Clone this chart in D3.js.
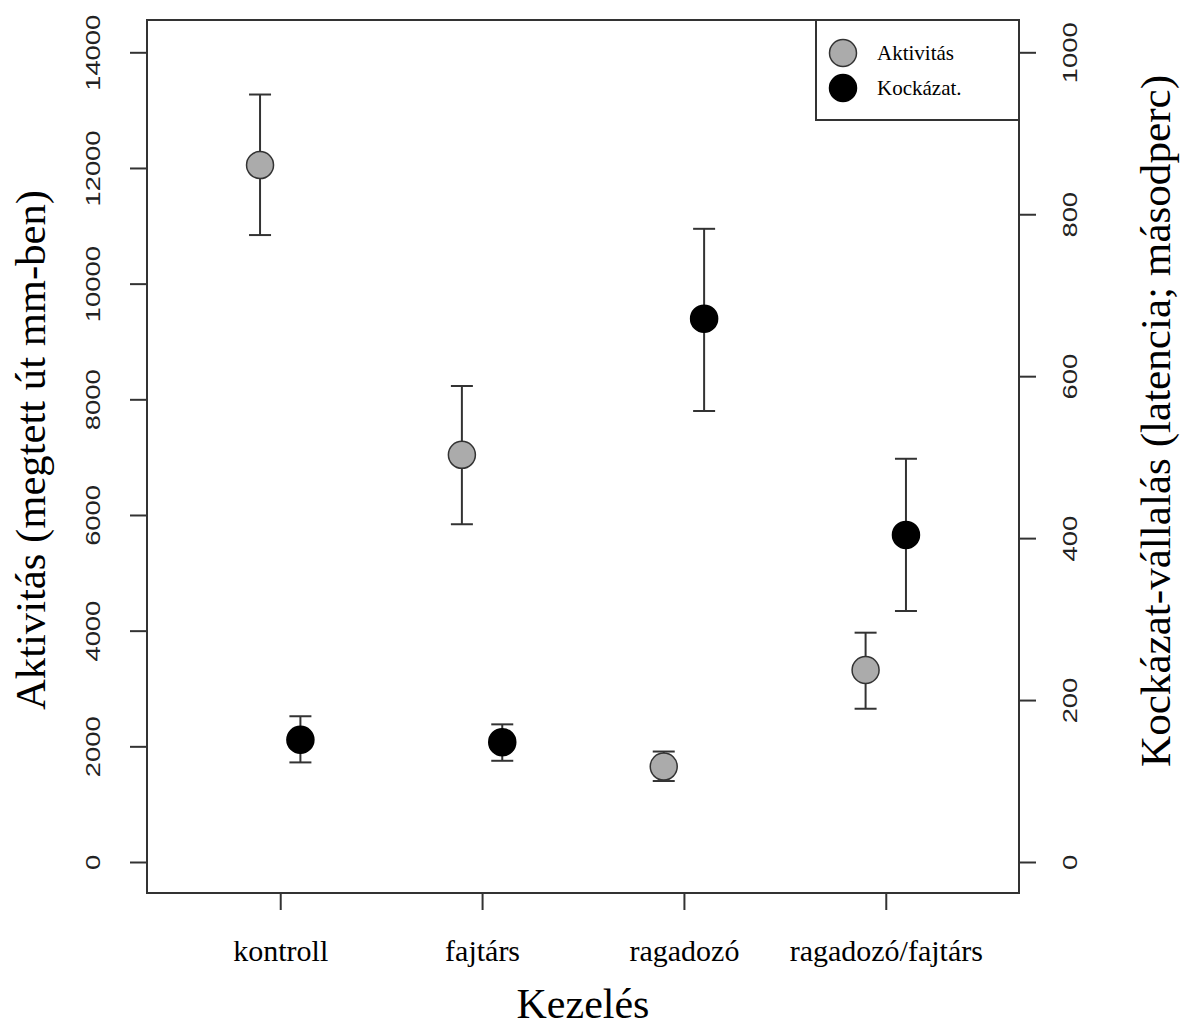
<!DOCTYPE html>
<html>
<head>
<meta charset="utf-8">
<script src="https://cdnjs.cloudflare.com/ajax/libs/d3/7.8.5/d3.min.js"></script>
<style>
body{margin:0;background:#ffffff;}
</style>
</head>
<body>
<svg id="chart" width="1180" height="1030"></svg>
<script>
// values
var categories = ["kontroll", "fajtárs", "ragadozó", "ragadozó/fajtárs"];
var aktMean = [12050, 7040, 1650, 3320];
var aktLow = [10840, 5840, 1400, 2650];
var aktHigh = [13270, 8230, 1910, 3965];
var kocMean = [151, 148, 671, 404];
var kocLow = [123, 125, 557, 310];
var kocHigh = [180, 170, 782, 498];
var leftTicks = [0, 2000, 4000, 6000, 8000, 10000, 12000, 14000];
var rightTicks = [0, 200, 400, 600, 800, 1000];
var legendLabels = ["Aktivitás", "Kockázat."];

var svg = d3.select("#chart");
var box = {left: 147, right: 1019, top: 20, bottom: 893};
var lineCol = "#333333";
var grayFill = "#ababab";
var serif = "'Liberation Serif', 'Times New Roman', serif";
var sans = "'Liberation Sans', Arial, sans-serif";

var x = d3.scaleLinear().domain([0.34, 4.66]).range([box.left, box.right]);
var yLeft = d3.scaleLinear().domain([0, 14000]).range([862, 52.3]);
var yRight = d3.scaleLinear().domain([0, 1000]).range([862, 52.3]);

// left axis
var leftAxis = svg.append("g").attr("class", "leftAxis")
    .attr("transform", "translate(" + box.left + ",0)")
    .call(d3.axisLeft(yLeft).tickValues(leftTicks).tickSize(17).tickFormat(d3.format("d")));
leftAxis.select(".domain").remove();
leftAxis.selectAll("line").attr("stroke", lineCol).attr("stroke-width", 2);
leftAxis.selectAll("text")
    .attr("x", 0).attr("y", 0).attr("dy", null)
    .attr("text-anchor", "middle")
    .attr("dominant-baseline", "central")
    .attr("transform", "translate(-54,0) rotate(-90)")
    .attr("textLength", function (d) { return String(d).length * 15.2; })
    .attr("lengthAdjust", "spacingAndGlyphs")
    .attr("font-family", sans)
    .attr("font-size", "20px")
    .attr("fill", "#222222");

// right axis
var rightAxis = svg.append("g").attr("class", "rightAxis")
    .attr("transform", "translate(" + box.right + ",0)")
    .call(d3.axisRight(yRight).tickValues(rightTicks).tickSize(17).tickFormat(d3.format("d")));
rightAxis.select(".domain").remove();
rightAxis.selectAll("line").attr("stroke", lineCol).attr("stroke-width", 2);
rightAxis.selectAll("text")
    .attr("x", 0).attr("y", 0).attr("dy", null)
    .attr("text-anchor", "middle")
    .attr("dominant-baseline", "central")
    .attr("transform", "translate(51,0) rotate(-90)")
    .attr("textLength", function (d) { return String(d).length * 15.2; })
    .attr("lengthAdjust", "spacingAndGlyphs")
    .attr("font-family", sans)
    .attr("font-size", "20px")
    .attr("fill", "#222222");

// bottom axis
var bottomAxis = svg.append("g").attr("class", "bottomAxis")
    .attr("transform", "translate(0," + box.bottom + ")")
    .call(d3.axisBottom(x).tickValues([1, 2, 3, 4]).tickSize(17)
        .tickFormat(function (d) { return categories[d - 1]; }));
bottomAxis.select(".domain").remove();
bottomAxis.selectAll("line").attr("stroke", lineCol).attr("stroke-width", 2);
bottomAxis.selectAll("text")
    .attr("y", 68).attr("dy", null)
    .attr("font-family", serif)
    .attr("font-size", "30px")
    .attr("fill", "#000000");

// plot box
svg.append("rect").attr("class", "plotBox")
    .attr("x", box.left).attr("y", box.top)
    .attr("width", box.right - box.left)
    .attr("height", box.bottom - box.top)
    .attr("fill", "none")
    .attr("stroke", lineCol)
    .attr("stroke-width", 2);

// error bars + points
function drawSeries(name, means, lows, highs, scale, offset, fill, stroke) {
    var g = svg.append("g").attr("class", name);
    var idx = d3.range(means.length);
    g.selectAll(".bar").data(idx).enter().append("line").attr("class", "bar")
        .attr("x1", function (i) { return x(i + 1 + offset); })
        .attr("x2", function (i) { return x(i + 1 + offset); })
        .attr("y1", function (i) { return scale(lows[i]); })
        .attr("y2", function (i) { return scale(highs[i]); })
        .attr("stroke", lineCol).attr("stroke-width", 2);
    g.selectAll(".capTop").data(idx).enter().append("line").attr("class", "capTop")
        .attr("x1", function (i) { return x(i + 1 + offset) - 11; })
        .attr("x2", function (i) { return x(i + 1 + offset) + 11; })
        .attr("y1", function (i) { return scale(highs[i]); })
        .attr("y2", function (i) { return scale(highs[i]); })
        .attr("stroke", lineCol).attr("stroke-width", 2);
    g.selectAll(".capLow").data(idx).enter().append("line").attr("class", "capLow")
        .attr("x1", function (i) { return x(i + 1 + offset) - 11; })
        .attr("x2", function (i) { return x(i + 1 + offset) + 11; })
        .attr("y1", function (i) { return scale(lows[i]); })
        .attr("y2", function (i) { return scale(lows[i]); })
        .attr("stroke", lineCol).attr("stroke-width", 2);
    g.selectAll(".pt").data(idx).enter().append("circle").attr("class", "pt")
        .attr("cx", function (i) { return x(i + 1 + offset); })
        .attr("cy", function (i) { return scale(means[i]); })
        .attr("r", 13.5)
        .attr("fill", fill)
        .attr("stroke", stroke)
        .attr("stroke-width", 1.5);
}
drawSeries("akt", aktMean, aktLow, aktHigh, yLeft, -0.1, grayFill, "#333333");
drawSeries("koc", kocMean, kocLow, kocHigh, yRight, 0.1, "#000000", "#000000");

// legend
svg.append("rect").attr("class", "legendBox")
    .attr("x", 816).attr("y", box.top)
    .attr("width", box.right - 816).attr("height", 100)
    .attr("fill", "#ffffff")
    .attr("stroke", lineCol)
    .attr("stroke-width", 2);
var legend = svg.selectAll(".legendItem").data(legendLabels).enter()
    .append("g").attr("class", "legendItem")
    .attr("transform", function (d, i) { return "translate(843," + (53 + i * 35) + ")"; });
legend.append("circle")
    .attr("r", 13.5)
    .attr("fill", function (d, i) { return i === 0 ? grayFill : "#000000"; })
    .attr("stroke", function (d, i) { return i === 0 ? "#333333" : "#000000"; })
    .attr("stroke-width", 1.5);
legend.append("text")
    .attr("x", 34).attr("y", 7)
    .text(function (d) { return d; })
    .attr("font-family", serif)
    .attr("font-size", "21px")
    .attr("fill", "#000000");

// axis titles
svg.append("text").attr("class", "xTitle")
    .attr("x", (box.left + box.right) / 2).attr("y", 1018)
    .attr("text-anchor", "middle")
    .text("Kezelés")
    .attr("font-family", serif)
    .attr("font-size", "42px")
    .attr("fill", "#000000");

svg.append("text").attr("class", "yTitleLeft")
    .attr("transform", "translate(45,710) rotate(-90)")
    .attr("text-anchor", "start")
    .attr("textLength", 520)
    .attr("lengthAdjust", "spacingAndGlyphs")
    .text("Aktivitás (megtett út mm-ben)")
    .attr("font-family", serif)
    .attr("font-size", "43px")
    .attr("fill", "#000000");

svg.append("text").attr("class", "yTitleRight")
    .attr("transform", "translate(1170,767) rotate(-90)")
    .attr("text-anchor", "start")
    .attr("textLength", 692)
    .attr("lengthAdjust", "spacingAndGlyphs")
    .text("Kockázat-vállalás (latencia; másodperc)")
    .attr("font-family", serif)
    .attr("font-size", "43px")
    .attr("fill", "#000000");
</script>
</body>
</html>
